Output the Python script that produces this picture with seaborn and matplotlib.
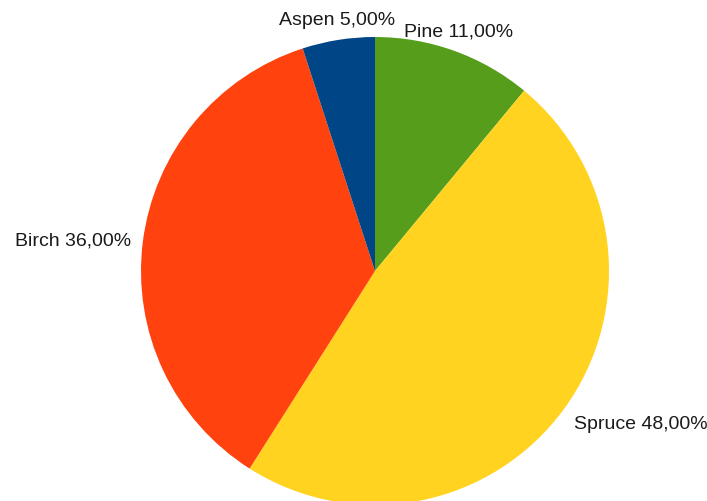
import numpy as np
import matplotlib.pyplot as plt
import seaborn as sns

# data
species = ['Pine', 'Spruce', 'Birch', 'Aspen']
shares = [11.0, 48.0, 36.0, 5.0]
colors = ['#579d1c', '#ffd320', '#ff420e', '#004586']

sns.set_theme(style="white")
plt.rcParams['font.family'] = ['Liberation Sans', 'DejaVu Sans']

fig = plt.figure(figsize=(7.07, 5.02), dpi=100)
ax = fig.add_axes([0, 0, 1, 1])

# pie center/radius in pixels
cx, cy, r = 375, 272, 234
ax.set_xlim(-cx / r, (707 - cx) / r)
ax.set_ylim(-(502 - cy) / r, cy / r)
ax.set_aspect('equal')
ax.axis('off')

wedges, _ = ax.pie(shares, colors=colors, startangle=90, counterclock=False,
                   radius=1.0, wedgeprops=dict(linewidth=0))
ax.set_xlim(-cx / r, (707 - cx) / r)
ax.set_ylim(-(502 - cy) / r, cy / r)

for w, name, val in zip(wedges, species, shares):
    ang = np.deg2rad((w.theta1 + w.theta2) / 2)
    c, s = np.cos(ang), np.sin(ang)
    d = 1.05
    ha = 'center' if abs(c) < 0.4 else ('left' if c > 0 else 'right')
    va = 'bottom' if s > 0.4 else ('top' if s < -0.4 else 'center')
    ax.text(d * c, d * s, f"{name} {val:.2f}%".replace('.', ','),
            ha=ha, va=va, fontsize=14, color='#1a1a1a')

fig.savefig('out.png', dpi=100)
